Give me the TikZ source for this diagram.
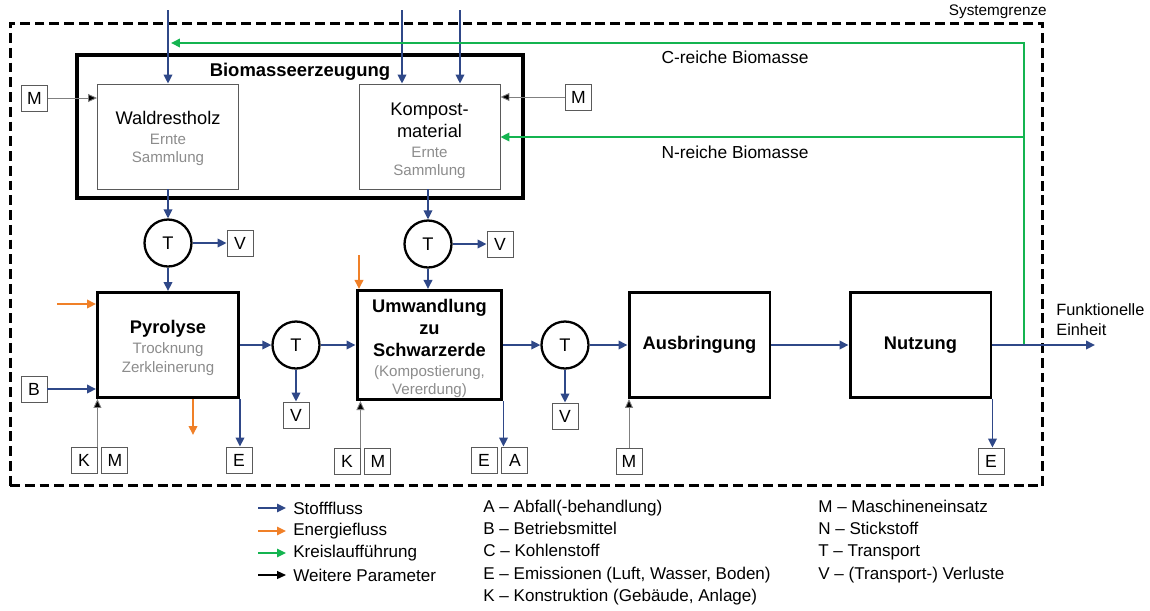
\documentclass[tikz,border=0pt]{standalone}
\usepackage{fontspec}
\setmainfont{Liberation Sans}
\usepackage{xcolor}
\usetikzlibrary{arrows.meta, positioning}

\definecolor{flowblue}{RGB}{47,72,136}
\definecolor{energyorange}{RGB}{240,128,40}
\definecolor{cyclegreen}{RGB}{20,180,80}
\definecolor{subgray}{RGB}{140,140,140}
\definecolor{boxgray}{RGB}{90,90,90}
\newcommand{\subtxt}[1]{{\color{subgray}\fontsize{8.6}{10.8}\selectfont #1}}
\newcommand{\topgap}[1]{\rule{0pt}{#1}}

\begin{document}
\begin{tikzpicture}[
  x=0.02cm, y=-0.02cm,
  node distance=0.08cm,
  proc/.style={draw, line width=1.7pt, minimum width=2.82cm, minimum height=2.1cm, align=center, inner sep=1pt, text=black, font=\fontsize{10.4}{12.5}\selectfont},
  src/.style={draw=boxgray, line width=0.5pt, minimum width=2.82cm, minimum height=2.1cm, align=center, inner sep=1pt, text=black, font=\fontsize{10.4}{12.5}\selectfont},
  trans/.style={circle, draw, line width=1.3pt, minimum size=0.94cm, inner sep=0pt, text=black, font=\fontsize{10.4}{12.5}\selectfont},
  tag/.style={draw=boxgray, line width=0.5pt, minimum size=0.52cm, inner sep=0pt, text=black, font=\fontsize{10}{12}\selectfont},
  flow/.style={flowblue, line width=1.1pt, -{Triangle[length=1.8mm,width=1.7mm]}},
  energy/.style={energyorange, line width=1.1pt, -{Triangle[length=1.8mm,width=1.7mm]}},
  recyc/.style={cyclegreen, line width=1.1pt, -{Triangle[length=1.8mm,width=1.7mm]}},
  param/.style={draw=gray, line width=0.5pt, -{Triangle[length=1.8mm,width=1.6mm,fill=black]}},
  lbl/.style={inner sep=0pt, text=black, font=\fontsize{9.9}{12}\selectfont},
  legtxt/.style={anchor=west, inner sep=0pt, align=left, text=black, font=\fontsize{9.7}{12.6}\selectfont}
]
\useasboundingbox (0,0) rectangle (1150,610);

\node[draw, dashed, line width=1.7pt, dash pattern=on 5.6pt off 2.8pt, minimum width=20.66cm, minimum height=9.26cm] (sysbound) at (526.5,254.5) {};
\node[anchor=east, inner sep=0pt, font=\fontsize{8.7}{10}\selectfont] (sysname) at (1047,12) {Systemgrenze};

\node[draw, line width=2.3pt, minimum width=8.92cm, minimum height=2.86cm] (biomass) at (300,126.5) {};
\node[font=\bfseries\fontsize{10.5}{12}\selectfont] (biotitle) at (300,72) {Biomasseerzeugung};
\node[src] (wald) at (168,136.5) {\topgap{9.9pt}Waldrestholz\\[-1.2pt]\subtxt{Ernte}\\[-2pt]\subtxt{Sammlung}};
\node[src] (komp) at (429.5,136.5) {\topgap{12pt}Kompost-\\material\\[-1.2pt]\subtxt{Ernte}\\[-2pt]\subtxt{Sammlung}};

\node[trans] (t1) at (168,243) {T};
\node[tag] (v1) at (240,243) {V};
\node[trans] (t2) at (428,244) {T};
\node[tag] (v2) at (500,244) {V};

\node[proc] (pyro) at (168,345) {\topgap{11pt}\textbf{Pyrolyse}\\[-1.2pt]\subtxt{Trocknung}\\[-2pt]\subtxt{Zerkleinerung}};
\node[trans] (t3) at (296,345) {T};
\node[tag] (v3) at (296,415) {V};
\node[proc, minimum width=2.9cm] (umw) at (429.5,345) {\topgap{11.5pt}\textbf{Umwandlung}\\\textbf{zu}\\\textbf{Schwarzerde}\\[-1.2pt]\subtxt{(Kompostierung,}\\[-2pt]\subtxt{Vererdung)}};
\node[trans] (t4) at (565,345) {T};
\node[tag] (v4) at (565,416) {V};
\node[proc, font=\bfseries\fontsize{10.4}{12.5}\selectfont] (ausb) at (699.5,345) {Ausbringung};
\node[proc, font=\bfseries\fontsize{10.4}{12.5}\selectfont] (nutz) at (920.5,345) {Nutzung};

\node[tag] (mwald) at (34.5,98) {M};
\node[tag] (mkomp) at (578.5,97) {M};
\node[tag] (bpyro) at (34,389) {B};
\node[tag] (kpyro) at (84,460) {K};
\node[tag, right=of kpyro] (mpyro) {M};
\node[tag] (epyro) at (239,460) {E};
\node[tag] (kumw) at (347,461) {K};
\node[tag, right=of kumw] (mumw) {M};
\node[tag] (eumw) at (484,460) {E};
\node[tag, right=of eumw] (aumw) {A};
\node[tag] (mausb) at (629,461) {M};
\node[tag] (enutz) at (991,461) {E};

\coordinate (inwald) at (168,10);
\coordinate (inkomp1) at (402,10);
\coordinate (inkomp2) at (460,10);
\coordinate (split) at (1024,345);
\coordinate (cturn) at (1024,43);
\coordinate (cend) at (171,43);
\coordinate (nturn) at (1024,137);
\coordinate (fe) at (1095,345);
\coordinate (epin) at (57,304);
\coordinate (eumwin) at (359,255);
\coordinate (epout) at (193,435);

\node[lbl] (clabel) at (735,57) {C-reiche Biomasse};
\node[lbl] (nlabel) at (735,152) {N-reiche Biomasse};
\node[lbl, anchor=west, align=left, font=\fontsize{9.3}{11.3}\selectfont] (felabel) at (1056,320) {Funktionelle\\Einheit};

\draw[flow] (inwald) -- (inwald |- wald.north);
\draw[flow] (inkomp1) -- (inkomp1 |- komp.north);
\draw[flow] (inkomp2) -- (inkomp2 |- komp.north);
\draw[flow] (wald) -- (t1);
\draw[flow] (komp.south -| t2) -- (t2);
\draw[flow] (t1) -- (v1);
\draw[flow] (t2) -- (v2);
\draw[flow] (t1) -- (pyro);
\draw[flow] (t2) -- (t2 |- umw.north);
\draw[flow] (pyro) -- (t3);
\draw[flow] (t3) -- (umw);
\draw[flow] (umw) -- (t4);
\draw[flow] (t4) -- (ausb);
\draw[flow] (ausb) -- (nutz);
\draw[flow] (t3) -- (v3);
\draw[flow] (t4) -- (v4);
\draw[recyc] (split) -- (cturn) -- (cend);
\draw[recyc] (nturn) -- (nturn -| komp.east);
\draw[flow] (nutz) -- (fe);

\draw[param] (mwald) -- (mwald -| wald.west);
\draw[param] (mkomp) -- (mkomp -| komp.east);
\draw[flow] (bpyro) -- (bpyro -| pyro.west);
\draw[param] (kpyro.north east) -- (kpyro.north east |- pyro.south);
\draw[param] (kumw.north east) -- (kumw.north east |- umw.south);
\draw[param] (mausb) -- (mausb |- ausb.south);
\draw[flow] (pyro.south east) -- (pyro.south east |- epyro.north);
\draw[flow] (umw.south east) -- (umw.south east |- eumw.north);
\draw[flow] (nutz.south east) -- (nutz.south east |- enutz.north);

\draw[energy] (epin) -- (epin -| pyro.west);
\draw[energy] (eumwin) -- (eumwin |- umw.north);
\draw[energy] (epout |- pyro.south) -- (epout);

\node[legtxt] (lstoff) at (293,508) {Stofffluss};
\node[legtxt] (lenergie) at (293,531) {Energiefluss};
\node[legtxt] (lkreis) at (293,553) {Kreislaufführung};
\node[legtxt] (lparam) at (293,575) {Weitere Parameter};
\draw[flow, line width=0.9pt] ([xshift=-0.7cm]lstoff.west) -- ([xshift=-0.14cm]lstoff.west);
\draw[energy, line width=0.9pt] ([xshift=-0.7cm]lenergie.west) -- ([xshift=-0.14cm]lenergie.west);
\draw[recyc, line width=0.9pt] ([xshift=-0.7cm]lkreis.west) -- ([xshift=-0.14cm]lkreis.west);
\draw[param, draw=black, line width=0.7pt] ([xshift=-0.7cm]lparam.west) -- ([xshift=-0.14cm]lparam.west);

\node[legtxt] (abbrleft) at (483,552.5) {A – Abfall(-behandlung)\\B – Betriebsmittel\\C – Kohlenstoff\\E – Emissionen (Luft, Wasser, Boden)\\K – Konstruktion (Gebäude, Anlage)};
\node[legtxt] (abbrright) at (818,541.5) {M – Maschineneinsatz\\N – Stickstoff\\T – Transport\\V – (Transport-) Verluste};
\end{tikzpicture}
\end{document}
